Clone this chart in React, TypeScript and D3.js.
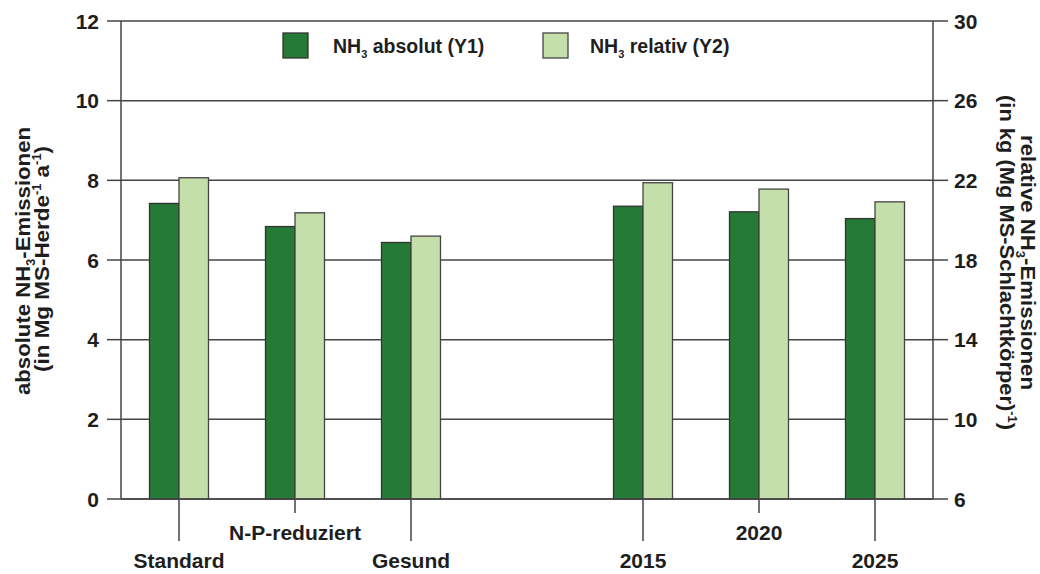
import React from "react";
import * as d3 from "d3";

const categories = ["Standard", "N-P-reduziert", "Gesund", "", "2015", "2020", "2025"];
const absolutY1: (number | null)[] = [7.42, 6.84, 6.44, null, 7.35, 7.21, 7.04];
const relativY2: (number | null)[] = [22.13, 20.37, 19.2, null, 21.88, 21.56, 20.92];
const leftTicks = [0, 2, 4, 6, 8, 10, 12];
const rightTicks = [6, 10, 14, 18, 22, 26, 30];

const W = 1040;
const H = 574;
const X0 = 121;
const X1 = 933;
const Y0 = 499;
const Y1 = 21;

const DARK = "#247a36";
const LIGHT = "#c5dfab";
const LINE = "#444";
const TXT = "#1e1e1e";
const FONT = "'Liberation Sans', Arial, sans-serif";

export default function App() {
  const keys = categories.map((c, i) => c || `gap${i}`);
  const x = d3.scaleBand<string>().domain(keys).range([X0, X1]).padding(0);
  const yL = d3.scaleLinear().domain([0, 12]).range([Y0, Y1]);
  const yR = d3.scaleLinear().domain([6, 30]).range([Y0, Y1]);
  const bw = 29.5;

  return (
    <svg width={W} height={H} style={{ position: "absolute", left: 0, top: 0, background: "#fff" }} fontFamily={FONT} fontWeight="bold">
      {/* gridlines & ticks */}
      {leftTicks.map((t) => (
        <g key={"l" + t}>
          <line x1={X0 - 14} x2={X0} y1={yL(t)} y2={yL(t)} stroke={LINE} strokeWidth={1.5} />
          <line x1={X0} x2={X1} y1={yL(t)} y2={yL(t)} stroke={LINE} strokeWidth={1.5} />
          <text x={X0 - 22} y={yL(t)} dy="0.36em" textAnchor="end" fontSize={21} fill={TXT}>{t}</text>
        </g>
      ))}
      {rightTicks.map((t) => (
        <g key={"r" + t}>
          <line x1={X1} x2={X1 + 15} y1={yR(t)} y2={yR(t)} stroke={LINE} strokeWidth={1.5} />
          <text x={X1 + 21} y={yR(t)} dy="0.36em" textAnchor="start" fontSize={21} fill={TXT}>{t}</text>
        </g>
      ))}
      <line x1={X0} x2={X0} y1={Y1} y2={Y0} stroke={LINE} strokeWidth={1.5} />
      <line x1={X1} x2={X1} y1={Y1} y2={Y0} stroke={LINE} strokeWidth={1.5} />

      {/* bars */}
      {keys.map((k, i) => {
        const cx = (x(k) as number) + x.bandwidth() / 2;
        const a = absolutY1[i];
        const r = relativY2[i];
        return (
          <g key={"b" + i}>
            {a != null && (
              <rect x={cx - bw} y={yL(a)} width={bw} height={Y0 - yL(a)} fill={DARK} stroke="#333" strokeWidth={1.3} />
            )}
            {r != null && (
              <rect x={cx} y={yR(r)} width={bw} height={Y0 - yR(r)} fill={LIGHT} stroke="#444" strokeWidth={1.3} />
            )}
          </g>
        );
      })}
      <line x1={X0} x2={X1} y1={Y0} y2={Y0} stroke={LINE} strokeWidth={1.5} />

      {/* category ticks & labels */}
      {keys.map((k, i) => {
        if (!categories[i]) return null;
        const cx = (x(k) as number) + x.bandwidth() / 2;
        const long = i % 2 === 0;
        return (
          <g key={"c" + i}>
            <line x1={cx} x2={cx} y1={Y0} y2={long ? 541 : 513} stroke={LINE} strokeWidth={1.5} />
            <text x={cx} y={long ? 568 : 540} textAnchor="middle" fontSize={21} fill={TXT}>{categories[i]}</text>
          </g>
        );
      })}

      {/* legend */}
      <rect x={283} y={33} width={25} height={25} fill={DARK} stroke="#333" strokeWidth={1.3} />
      <text x={333} y={53} fontSize={19.5} fill={TXT}>
        <tspan>NH</tspan>
        <tspan fontSize={11} dy={5}>3</tspan>
        <tspan dy={-5}> absolut (Y1)</tspan>
      </text>
      <rect x={543} y={33} width={25} height={25} fill={LIGHT} stroke="#444" strokeWidth={1.3} />
      <text x={590} y={53} fontSize={19.5} fill={TXT}>
        <tspan>NH</tspan>
        <tspan fontSize={11} dy={5}>3</tspan>
        <tspan dy={-5}> relativ (Y2)</tspan>
      </text>

      {/* left axis title */}
      <g transform="translate(30,395) rotate(-90)">
        <text x={0} y={0} fontSize={21} fill={TXT} textLength={268} lengthAdjust="spacingAndGlyphs">
          <tspan>absolute NH</tspan>
          <tspan fontSize={12} dy={5}>3</tspan>
          <tspan dy={-5}>-Emissionen</tspan>
        </text>
      </g>
      <g transform="translate(49,372) rotate(-90)">
        <text x={0} y={0} fontSize={21} fill={TXT} textLength={226} lengthAdjust="spacingAndGlyphs">
          <tspan>(in Mg MS-Herde</tspan>
          <tspan fontSize={12} dy={-8}>-1</tspan>
          <tspan dy={8}> a</tspan>
          <tspan fontSize={12} dy={-8}>-1</tspan>
          <tspan dy={8}>)</tspan>
        </text>
      </g>

      {/* right axis title */}
      <g transform="translate(1021,135) rotate(90)">
        <text x={0} y={0} fontSize={20.5} fill={TXT} textLength={255} lengthAdjust="spacingAndGlyphs">
          <tspan>relative NH</tspan>
          <tspan fontSize={12} dy={5}>3</tspan>
          <tspan dy={-5}>-Emissionen</tspan>
        </text>
      </g>
      <g transform="translate(1000,95) rotate(90)">
        <text x={0} y={0} fontSize={20.5} fill={TXT} textLength={335} lengthAdjust="spacingAndGlyphs">
          <tspan>(in kg (Mg MS-Schlachtkörper)</tspan>
          <tspan fontSize={12} dy={-8}>-1</tspan>
          <tspan dy={8}>)</tspan>
        </text>
      </g>
    </svg>
  );
}
